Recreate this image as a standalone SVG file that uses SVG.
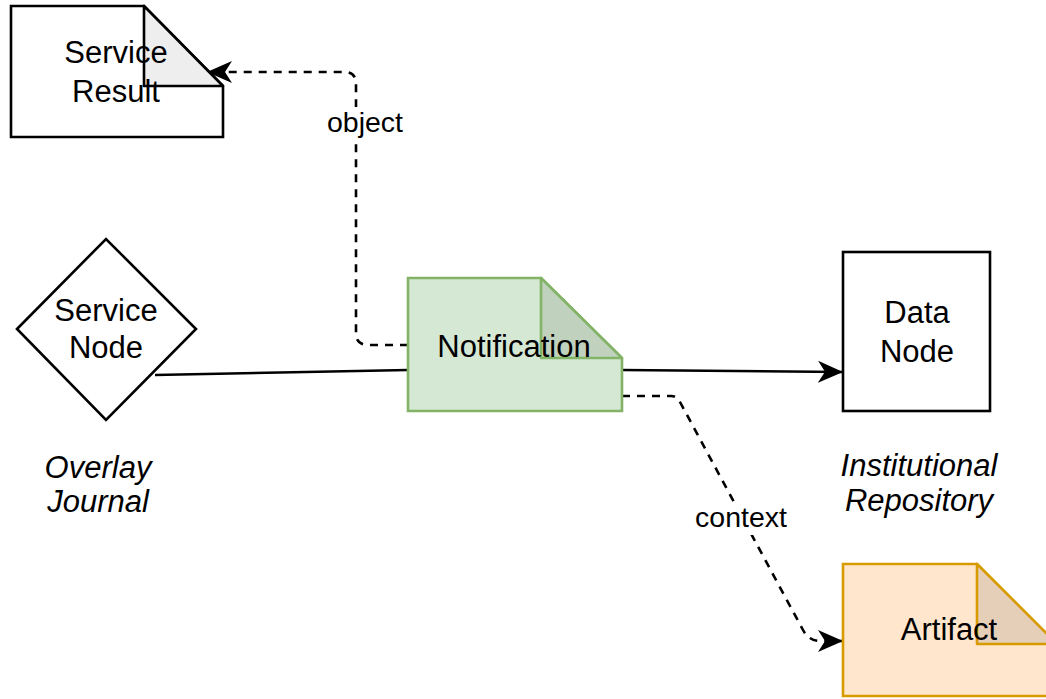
<svg xmlns="http://www.w3.org/2000/svg" width="1046" height="699" viewBox="0 0 1046 699">
<style>
text{font-family:"Liberation Sans",Arial,sans-serif;font-size:31px;fill:#000;text-anchor:middle}
.it{font-style:italic}
.lbl{font-size:28.5px}
.edge{fill:none;stroke:#000;stroke-width:2.6}
.dash{stroke-dasharray:8 7}
.blk{stroke:#000;stroke-width:2.6}
</style>
<defs>
<marker id="ah" viewBox="0 0 26 24" refX="25" refY="12" markerWidth="26" markerHeight="24" markerUnits="userSpaceOnUse" orient="auto">
<path d="M0,1 L25,12 L0,23 L7,12 Z" fill="#000"/>
</marker>
</defs>
<rect width="1046" height="699" fill="#fff"/>
<g id="connectors">
<path class="edge" d="M155,375 L408,370"/>
<path class="edge" d="M622,370 L843,372" marker-end="url(#ah)"/>
<path class="edge dash" d="M408,345 L368,345 Q356,345 356,333 L356,84 Q356,72 344,72 L207,72" marker-end="url(#ah)"/>
<path class="edge dash" d="M622,396 L671,396 Q677,396 680,402 L803,630 Q809,641 820,641 L843,641" marker-end="url(#ah)"/>
<rect x="322" y="107" width="86" height="32" fill="#fff"/>
<text class="lbl" x="365" y="132">object</text>
<rect x="690" y="503" width="102" height="32" fill="#fff"/>
<text class="lbl" x="741" y="527">context</text>
</g>
<g id="service-result">
<path class="blk" d="M11,6 L144,6 L223,86 L223,137 L11,137 Z" fill="#fff"/>
<path class="blk" d="M144,6 L144,86 L223,86 Z" fill="#eeeeee" stroke-linejoin="round"/>
<text x="116" y="63">Service</text>
<text x="116" y="102">Result</text>
</g>
<g id="service-node">
<path class="blk" d="M17,329 L106,239 L196,329 L106,420 Z" fill="#fff"/>
<text x="106" y="321">Service</text>
<text x="106" y="358">Node</text>
</g>
<g id="overlay-journal">
<text class="it" x="98" y="478">Overlay</text>
<text class="it" x="98" y="512">Journal</text>
</g>
<g id="notification">
<path d="M408,278 L541,278 L622,358 L622,411 L408,411 Z" fill="#d5e8d4" stroke="#82b366" stroke-width="2.6"/>
<path d="M541,278 L541,358 L622,358 Z" fill="#c0d2be" stroke="#82b366" stroke-width="2.6" stroke-linejoin="round"/>
<text x="514" y="357">Notification</text>
</g>
<g id="data-node">
<rect class="blk" x="843" y="252" width="147" height="159" fill="#fff"/>
<text x="917" y="323">Data</text>
<text x="917" y="362">Node</text>
</g>
<g id="institutional-repository">
<text class="it" x="919" y="476">Institutional</text>
<text class="it" x="919" y="511">Repository</text>
</g>
<g id="artifact">
<path d="M843,564 L977,564 L1057,644 L1057,696 L843,696 Z" fill="#ffe6cc" stroke="#d79b00" stroke-width="2.6"/>
<path d="M977,564 L977,644 L1057,644 Z" fill="#e6cfb8" stroke="#d79b00" stroke-width="2.6" stroke-linejoin="round"/>
<text x="949" y="640">Artifact</text>
</g>
</svg>
